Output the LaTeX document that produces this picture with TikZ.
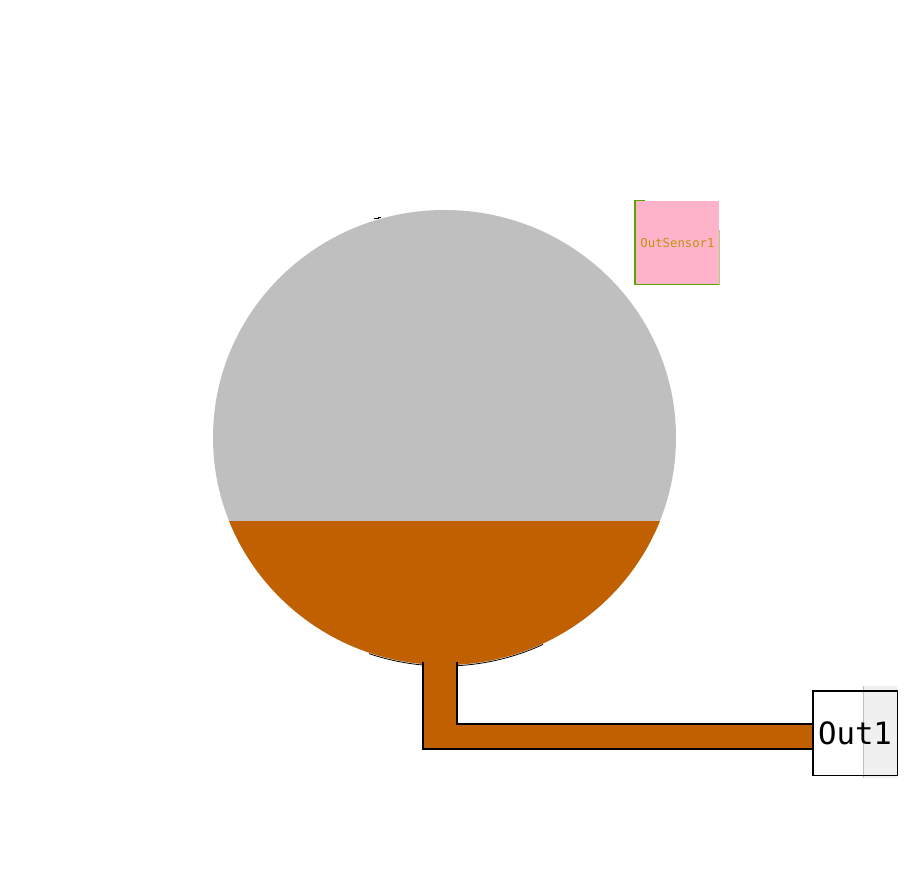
\documentclass[tikz,border=0pt]{standalone}
\usepackage{fontspec}
\setmonofont{DejaVu Sans Mono}
\definecolor{tankgrey}{HTML}{BFBFBF}
\definecolor{liquid}{HTML}{C06000}
\definecolor{sensorpink}{HTML}{FFB3CB}
\definecolor{sensorgreen}{HTML}{5AA500}
\definecolor{sensortext}{HTML}{BE950F}
\definecolor{outshade}{HTML}{F0F0F0}
\tikzset{
  pipefill/.style={fill=liquid,draw=none},
  pipeline/.style={draw=black,line width=1.3pt},
  sensorbox/.style={draw=none,fill=sensorpink,minimum width=83pt,minimum height=82.5pt,inner sep=0pt,font=\ttfamily\fontsize{12.3pt}{14pt}\selectfont,text=sensortext},
  outbox/.style={draw=black,line width=0.8pt,fill=none,minimum width=84pt,minimum height=84pt,inner sep=0pt,font=\ttfamily\fontsize{30.7pt}{32pt}\selectfont,text=black}
}
\begin{document}
\begin{tikzpicture}[x=1pt,y=-1pt]
\useasboundingbox (0,0) rectangle (918,873);
\fill[white] (0,0) rectangle (918,873);
% tank
\coordinate (tankc) at (444.5,437.5);
\fill[tankgrey] (tankc) ellipse [x radius=231.5,y radius=227.5];
\begin{scope}
  \clip (200,521) rectangle (700,680);
  \fill[liquid] (tankc) ellipse [x radius=231.5,y radius=227.5];
\end{scope}
% thin black edge under the tank
\begin{scope}
  \clip (369,640) rectangle (423,670);
  \draw[black,line width=0.8pt] (444.5,438.5) ellipse [x radius=231.5,y radius=227.5];
\end{scope}
\begin{scope}
  \clip (457,640) rectangle (543,670);
  \draw[black,line width=0.8pt] (444.5,438.5) ellipse [x radius=231.5,y radius=227.5];
\end{scope}
\draw[black,line width=1pt] (374,218) -- (378,218) -- (378,217) -- (381,217);
% out box shading
\fill[outshade] (863,686) rectangle (897,778);
\draw[black!25,line width=0.8pt] (863,686) -- (863,778);
% sensor
\fill[sensorgreen] (634,200) rectangle (636,285);
\fill[sensorgreen] (634,283.8) rectangle (720,285.2);
\fill[sensorgreen] (636,200) rectangle (645,200.8);
\fill[sensorgreen!50!white] (719.2,230) rectangle (720,285);
\node[sensorbox] (sensor) at (677.5,242.6) {OutSensor1};
% pipe
\node[outbox] (out) at (855,733) {Out1};
\coordinate (pa) at (423,662);
\coordinate (pb) at (423,749);
\coordinate (pc) at (457,662);
\coordinate (pd) at (457,724);
\path (out.west |- pd) coordinate (pe);
\path (out.west |- pb) coordinate (pf);
\fill[pipefill] (pa) -- (pb) -- (pf) -- (pe) -- (pd) -- (pc) -- cycle;
\draw[pipeline] (pa) -- (pb) -- (pf);
\draw[pipeline] (pc) -- (pd) -- (pe);
\draw[black,line width=0.8pt] (out.north west) rectangle (out.south east);
\end{tikzpicture}
\end{document}
